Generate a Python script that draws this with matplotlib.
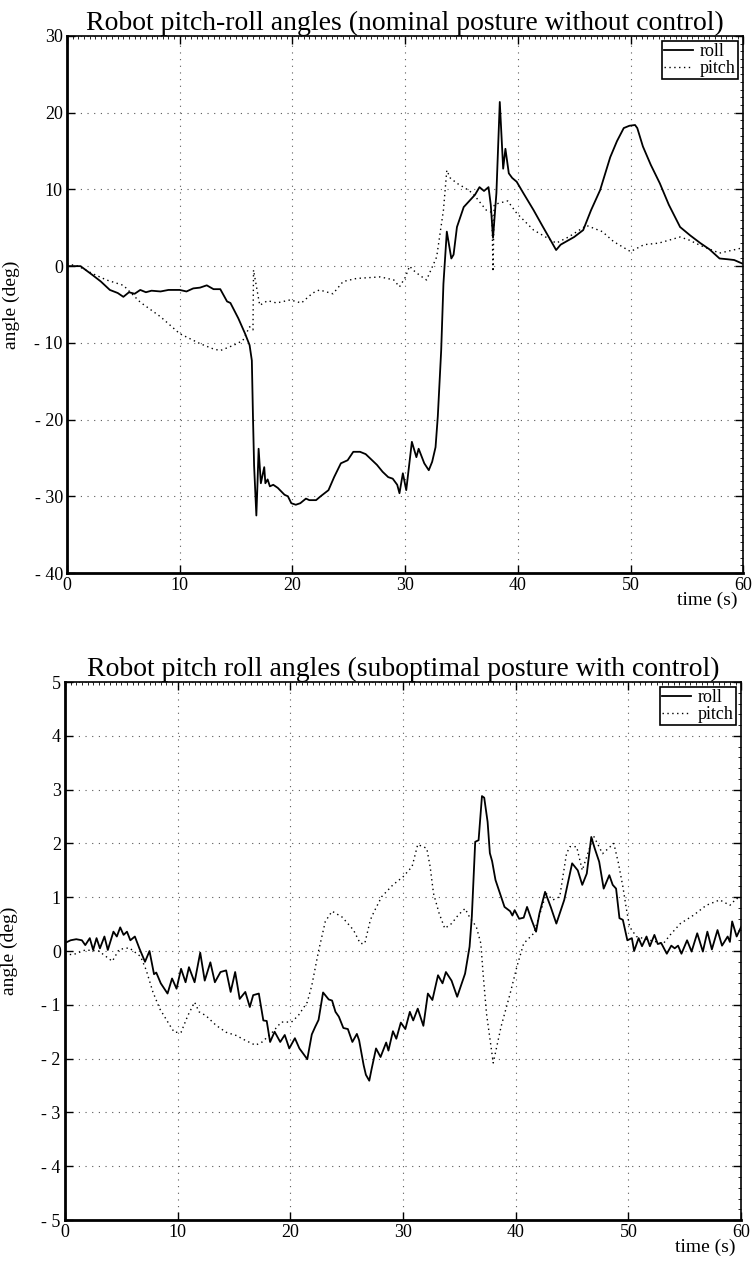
import matplotlib
matplotlib.use("Agg")
import matplotlib.pyplot as plt
from matplotlib.ticker import MultipleLocator, FuncFormatter

plt.rcParams['font.family'] = ['Liberation Serif', 'DejaVu Serif']

# top plot: nominal posture without control
roll_t1 = [0, 1.2, 2.3, 3.0, 3.8, 4.5, 5.0, 5.5, 6.0, 6.5,
           7.0, 7.5, 8.3, 9.0, 10.0, 10.6, 11.2, 11.8, 12.4, 13.0,
           13.6, 14.2, 14.5, 15.2, 15.8, 16.2, 16.4, 16.5, 16.6, 16.8,
           16.9, 17.0, 17.2, 17.5, 17.6, 17.8, 18.0, 18.3, 18.7, 19.3,
           19.6, 19.9, 20.3, 20.7, 21.2, 21.5, 22.1, 22.5, 23.2, 23.7,
           24.3, 24.9, 25.4, 26.0, 26.5, 27.0, 27.5, 28.0, 28.5, 28.9,
           29.3, 29.5, 29.8, 30.1, 30.6, 31.0, 31.2, 31.7, 32.1, 32.4,
           32.7, 32.9, 33.2, 33.4, 33.7, 34.1, 34.3, 34.6, 35.2, 35.7,
           36.2, 36.6, 37.0, 37.4, 37.6, 37.8, 38.1, 38.4, 38.7, 38.9,
           39.2, 39.5, 39.9, 40.5, 41.4, 42.2, 42.9, 43.4, 43.8, 44.4,
           45.0, 45.8, 46.5, 47.3, 48.2, 48.8, 49.4, 49.9, 50.4, 50.6,
           51.1, 51.8, 52.6, 53.4, 54.4, 55.3, 56.2, 57.0, 57.9, 58.6,
           59.2, 59.9]
roll_v1 = [0, 0, -1.2, -2.0, -3.1, -3.5, -4.0, -3.4, -3.6, -3.1,
           -3.4, -3.2, -3.3, -3.1, -3.1, -3.3, -2.9, -2.8, -2.5, -3.0,
           -3.0, -4.6, -4.8, -6.8, -8.8, -10.3, -12.3, -19.6, -26.0, -32.5,
           -28.4, -23.8, -28.3, -26.2, -28.3, -27.8, -28.7, -28.5, -28.9, -29.8,
           -30.0, -30.9, -31.1, -30.9, -30.3, -30.5, -30.5, -30.0, -29.2, -27.5,
           -25.7, -25.3, -24.2, -24.2, -24.5, -25.2, -25.9, -26.8, -27.5, -27.7,
           -28.5, -29.6, -27.0, -29.2, -22.9, -24.9, -23.8, -25.7, -26.6, -25.5,
           -23.6, -19.6, -11.0, -2.3, 4.5, 1.0, 1.5, 5.1, 7.7, 8.5,
           9.3, 10.3, 9.8, 10.3, 8.0, 3.7, 9.5, 21.4, 12.7, 15.3,
           12.1, 11.5, 11.0, 9.5, 7.3, 5.2, 3.4, 2.1, 2.8, 3.3,
           3.8, 4.7, 7.3, 9.9, 14.2, 16.3, 18.0, 18.3, 18.4, 18.0,
           15.6, 13.2, 10.8, 8.0, 5.1, 4.0, 3.0, 2.2, 1.0, 0.9,
           0.8, 0.35]

pitch_t1 = [0, 1.0, 2.3, 3.5, 5.0, 6.5, 8.3, 10.0, 11.8, 13.0,
            13.6, 14.8, 15.6, 16.2, 16.5, 16.55, 17.1, 17.8, 18.6, 19.8,
            20.8, 21.8, 22.4, 23.6, 24.5, 25.7, 27.8, 29.0, 29.5, 30.0,
            30.4, 30.7, 31.3, 31.9, 32.8, 33.4, 33.7, 34.0, 34.6, 35.3,
            36.0, 37.2, 37.7, 37.8, 37.9, 38.3, 39.1, 39.9, 41.4, 42.0,
            43.4, 44.5, 46.1, 47.5, 48.5, 50.0, 51.2, 52.5, 54.4, 55.2,
            56.2, 57.9, 58.8, 59.7, 60.0]
pitch_v1 = [0.3, 0.0, -1.0, -1.8, -2.5, -4.7, -6.6, -8.8, -10.1, -10.8,
            -11.0, -10.3, -9.7, -7.9, -8.3, -0.5, -5.1, -4.5, -4.8, -4.4,
            -4.8, -3.5, -3.1, -3.6, -2.0, -1.6, -1.4, -1.8, -2.7, -1.5,
            0.0, -0.5, -1.2, -1.8, 1.2, 7.3, 12.5, 11.5, 10.8, 10.2,
            9.5, 7.3, 7.0, -0.7, 8.0, 8.2, 8.5, 6.9, 4.7, 4.2,
            3.0, 3.8, 5.3, 4.5, 3.2, 1.9, 2.8, 3.0, 3.8, 3.4,
            2.7, 1.7, 2.0, 2.3, 2.2]

# bottom plot: suboptimal posture with control
roll_t2 = [0.0, 0.5, 1.0, 1.5, 1.8, 2.2, 2.5, 2.8, 3.1, 3.5,
           3.8, 4.3, 4.6, 4.9, 5.2, 5.5, 5.8, 6.2, 6.6, 7.1,
           7.5, 7.9, 8.1, 8.5, 9.1, 9.5, 9.9, 10.3, 10.7, 11.0,
           11.5, 12.0, 12.4, 12.9, 13.3, 13.8, 14.3, 14.7, 15.1, 15.5,
           16.0, 16.4, 16.7, 17.2, 17.6, 17.9, 18.2, 18.6, 19.1, 19.5,
           19.9, 20.4, 20.8, 21.5, 21.9, 22.2, 22.5, 22.9, 23.4, 23.7,
           24.0, 24.3, 24.7, 25.1, 25.5, 25.9, 26.1, 26.5, 26.7, 27.0,
           27.2, 27.6, 28.0, 28.5, 28.7, 29.1, 29.4, 29.8, 30.2, 30.6,
           30.9, 31.3, 31.8, 32.2, 32.6, 33.1, 33.5, 33.8, 34.3, 34.8,
           35.5, 35.9, 36.1, 36.4, 36.7, 37.0, 37.2, 37.5, 37.7, 37.9,
           38.2, 38.7, 39.0, 39.5, 39.7, 39.9, 40.3, 40.7, 41.0, 41.4,
           41.8, 42.1, 42.6, 43.1, 43.6, 44.3, 45.0, 45.5, 45.9, 46.3,
           46.7, 47.0, 47.4, 47.8, 48.3, 48.6, 48.9, 49.2, 49.5, 49.9,
           50.3, 50.5, 50.9, 51.2, 51.6, 51.9, 52.3, 52.6, 52.9, 53.4,
           53.8, 54.1, 54.4, 54.7, 55.2, 55.6, 56.1, 56.6, 57.0, 57.4,
           57.9, 58.3, 58.8, 59.0, 59.2, 59.6, 60.0]
roll_v2 = [0.15, 0.2, 0.22, 0.2, 0.11, 0.24, 0.02, 0.24, 0.05, 0.27,
           0.02, 0.36, 0.27, 0.44, 0.3, 0.36, 0.2, 0.27, 0.05, -0.2,
           0.0, -0.43, -0.4, -0.6, -0.79, -0.51, -0.7, -0.33, -0.58, -0.3,
           -0.58, -0.03, -0.55, -0.21, -0.58, -0.39, -0.36, -0.76, -0.39, -0.89,
           -0.76, -1.04, -0.82, -0.79, -1.29, -1.3, -1.69, -1.5, -1.69, -1.56,
           -1.81, -1.62, -1.81, -2.01, -1.55, -1.41, -1.28, -0.77, -0.9, -0.92,
           -1.13, -1.22, -1.43, -1.45, -1.69, -1.54, -1.66, -2.12, -2.3, -2.41,
           -2.2, -1.81, -1.97, -1.7, -1.85, -1.49, -1.63, -1.33, -1.45, -1.13,
           -1.29, -1.07, -1.39, -0.79, -0.91, -0.45, -0.6, -0.39, -0.55, -0.85,
           -0.42, 0.08, 0.64, 2.03, 2.06, 2.88, 2.85, 2.4, 1.82, 1.67,
           1.32, 1.01, 0.82, 0.74, 0.66, 0.76, 0.6, 0.62, 0.82, 0.58,
           0.36, 0.7, 1.1, 0.82, 0.51, 0.95, 1.63, 1.5, 1.23, 1.44,
           2.12, 1.91, 1.66, 1.16, 1.41, 1.23, 1.16, 0.61, 0.58, 0.2,
           0.24, 0.0, 0.24, 0.09, 0.27, 0.09, 0.3, 0.13, 0.15, -0.05,
           0.1, 0.05, 0.1, -0.05, 0.2, -0.01, 0.33, -0.01, 0.36, 0.03,
           0.39, 0.1, 0.27, 0.17, 0.55, 0.27, 0.45]

pitch_t2 = [0.0, 0.7, 1.8, 3.0, 4.2, 4.8, 5.7, 6.7, 7.2, 7.8,
            8.4, 9.3, 9.7, 10.3, 10.9, 11.5, 11.9, 12.5, 13.4, 14.3,
            15.2, 16.0, 16.9, 17.5, 18.4, 19.2, 20.1, 20.7, 21.5, 21.9,
            22.5, 23.1, 23.7, 24.6, 25.6, 26.2, 26.6, 27.1, 27.4, 28.1,
            29.1, 30.0, 30.8, 31.3, 32.1, 32.4, 32.7, 33.2, 33.7, 34.3,
            34.9, 35.5, 35.9, 36.5, 36.9, 37.1, 37.4, 38.0, 38.7, 39.5,
            40.1, 40.7, 41.6, 42.7, 43.3, 43.9, 44.5, 44.8, 45.4, 45.9,
            46.9, 47.7, 48.7, 49.1, 49.5, 49.8, 50.1, 50.7, 51.9, 53.1,
            53.7, 54.6, 55.8, 56.9, 58.1, 59.0, 59.6, 60.0]
pitch_v2 = [-0.05, -0.07, 0.02, 0.0, -0.19, 0.03, 0.06, -0.1, -0.35, -0.76,
            -1.07, -1.38, -1.51, -1.51, -1.2, -0.95, -1.13, -1.2, -1.38, -1.51,
            -1.57, -1.66, -1.75, -1.69, -1.51, -1.32, -1.32, -1.2, -0.95, -0.64,
            0.0, 0.55, 0.74, 0.63, 0.39, 0.14, 0.14, 0.58, 0.72, 1.01,
            1.23, 1.38, 1.57, 1.98, 1.91, 1.57, 1.07, 0.7, 0.42, 0.51,
            0.67, 0.79, 0.63, 0.45, 0.14, -0.42, -1.16, -2.08, -1.4, -0.79,
            -0.29, 0.14, 0.33, 1.07, 0.95, 1.01, 1.81, 1.94, 1.94, 1.5,
            2.14, 1.81, 2.0, 1.64, 1.2, 0.8, 0.45, 0.27, 0.2, 0.14,
            0.3, 0.51, 0.67, 0.85, 0.95, 0.85, 0.98, 0.95]

xticks = [0, 10, 20, 30, 40, 50, 60]


def neg_fmt(v, pos):
    if v < 0:
        return '- %d' % round(-v)
    return '%d' % round(v)


def style_axes(ax, ylim, ystep, yminor, title):
    ax.set_xlim(0, 60)
    ax.set_ylim(*ylim)
    ax.set_xticks(xticks)
    ax.yaxis.set_major_locator(MultipleLocator(ystep))
    ax.yaxis.set_major_formatter(FuncFormatter(neg_fmt))
    ax.xaxis.set_minor_locator(MultipleLocator(0.5))
    ax.yaxis.set_minor_locator(MultipleLocator(yminor))
    ax.tick_params(which='major', direction='in', length=6, width=1,
                   top=True, right=True, labelsize=13, pad=3)
    ax.tick_params(which='minor', direction='in', length=2.5, width=0.6,
                   top=True, right=True, bottom=False, left=False)
    ax.grid(True, which='major', linestyle=(0, (1, 5)), color='0.35', linewidth=0.8)
    for s in ['left', 'bottom']:
        ax.spines[s].set_linewidth(2)
    for s in ['top', 'right']:
        ax.spines[s].set_linewidth(1.2)
    ax.set_title(title, fontsize=20, pad=4)
    ax.set_ylabel('angle (deg)', fontsize=14)
    ax.yaxis.set_label_coords(-0.07, 0.5)
    ax.text(0.991, -0.05, 'time (s)', transform=ax.transAxes,
            ha='right', va='center', fontsize=14)
    leg = ax.legend(loc='upper right', fontsize=13, fancybox=False,
                    framealpha=1, edgecolor='black', borderpad=0.1,
                    handlelength=1.6, labelspacing=0.0, handletextpad=0.4,
                    borderaxespad=0.3)
    leg.get_frame().set_linewidth(1.2)


fig = plt.figure(figsize=(7.53, 12.63), dpi=100)

ax1 = fig.add_axes([0.089, 0.5463, 0.898, 0.4252])
ax1.plot(roll_t1, roll_v1, color='black', lw=1.3, label='roll')
ax1.plot(pitch_t1, pitch_v1, color='black', lw=1.0, linestyle=(0, (1, 2.5)), label='pitch')
style_axes(ax1, (-40, 30), 10, 1, 'Robot pitch-roll angles (nominal posture without control)')

ax2 = fig.add_axes([0.0863, 0.034, 0.898, 0.426])
ax2.plot(roll_t2, roll_v2, color='black', lw=1.3, label='roll')
ax2.plot(pitch_t2, pitch_v2, color='black', lw=1.0, linestyle=(0, (1, 2.5)), label='pitch')
style_axes(ax2, (-5, 5), 1, 0.2, 'Robot pitch roll angles (suboptimal posture with control)')

fig.savefig('out.png', dpi=100)
